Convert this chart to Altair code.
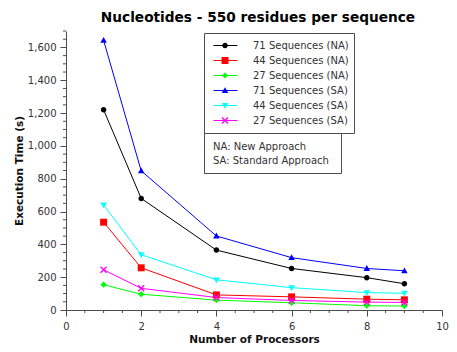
import altair as alt
import pandas as pd

# ---- data ----
processors = [1, 2, 4, 6, 8, 9]
series_names = ["71 Sequences (NA)", "44 Sequences (NA)", "27 Sequences (NA)",
                "71 Sequences (SA)", "44 Sequences (SA)", "27 Sequences (SA)"]
series_keys = ["k1", "k2", "k3", "k4", "k5", "k6"]
colors = ["#000000", "#ff0000", "#00ff00", "#0000ff", "#00ffff", "#ff00ff"]
na71 = [1220, 680, 365, 253, 197, 160]
na44 = [535, 257, 92, 80, 66, 62]
na27 = [154, 96, 60, 44, 26, 24]
sa71 = [1643, 848, 451, 319, 253, 239]
sa44 = [640, 337, 184, 136, 106, 102]
sa27 = [245, 132, 76, 58, 48, 46]
notes = ["NA: New Approach", "SA: Standard Approach"]
x_major = [0, 2, 4, 6, 8, 10]
x_minor = [i * 0.5 for i in range(21) if i % 4 != 0]
y_major = list(range(0, 1601, 200))
y_minor = [v for v in range(0, 1701, 50) if v % 200 != 0]

# marker shapes (unit path, scaled by symbol size 576 -> 12px per unit)
shapes = [
    "M0.23,0A0.23,0.23,0,1,1,-0.23,0A0.23,0.23,0,1,1,0.23,0Z",
    "M-0.29,-0.29L0.29,-0.29L0.29,0.29L-0.29,0.29Z",
    "M0,-0.26L0.26,0L0,0.26L-0.26,0Z",
    "M0,-0.28L0.27,0.2L-0.27,0.2Z",
    "M-0.27,-0.2L0.27,-0.2L0,0.28Z",
    "M-0.29,-0.21L-0.21,-0.29L0.29,0.21L0.21,0.29Z"
    "M0.21,-0.29L0.29,-0.21L-0.21,0.29L-0.29,0.21Z",
]

all_series = [na71, na44, na27, sa71, sa44, sa27]
rows = []
for name, key, vals in zip(series_names, series_keys, all_series):
    for p, v in zip(processors, vals):
        rows.append({"processors": p, "time": v, "series": name, "key": key})
df = pd.DataFrame(rows)
notes_df = pd.DataFrame({"note": ["\n".join(notes)]})
xminor_df = pd.DataFrame({"processors": x_minor})
yminor_df = pd.DataFrame({"time": y_minor})

FONT = "DejaVu Sans"
TXT = "#333333"
LINE = "#4d4d4d"
W, H = 376, 279

xscale = alt.Scale(domain=[0, 10], nice=False)
yscale = alt.Scale(domain=[0, 1700], nice=False)

xaxis = alt.Axis(
    values=x_major, tickCount=50, format="d", tickSize=6,
    grid=False, labelFont=FONT, labelFontSize=10, labelColor=TXT,
    tickColor=LINE, domainColor=LINE, labelPadding=5, labelFlush=False,
    labelOverlap=False,
    title="Number of Processors", titleFont=FONT,
    titleFontSize=10.5, titleFontWeight="bold", titleColor="#111111", titlePadding=3,
)
yaxis = alt.Axis(
    values=y_major, tickCount=50, format=",d", tickSize=6,
    grid=False, labelFont=FONT, labelFontSize=10, labelColor=TXT,
    tickColor=LINE, domainColor=LINE, labelPadding=4, labelFlush=False,
    labelOverlap=False,
    title="Execution Time (s)", titleFont=FONT,
    titleFontSize=10.5, titleFontWeight="bold", titleColor="#111111", titlePadding=3,
)

common_legend = dict(
    orient="none", legendX=138, legendY=2, direction="vertical", title=None,
    padding=5, symbolSize=576, symbolOffset=4, labelOffset=15, clipHeight=15,
    rowPadding=0, labelFont=FONT, labelFontSize=10, labelColor=TXT, labelLimit=300,
)

lines = alt.Chart(df).mark_line(strokeWidth=1).encode(
    x=alt.X("processors:Q", scale=xscale, axis=xaxis),
    y=alt.Y("time:Q", scale=yscale, axis=yaxis),
    stroke=alt.Stroke(
        "series:N",
        scale=alt.Scale(domain=series_names, range=colors),
        legend=alt.Legend(symbolType="stroke", symbolStrokeWidth=1,
                          strokeColor=LINE, **common_legend),
    ),
)

legend2 = alt.Legend(labelExpr="''", symbolStrokeWidth=0, **common_legend)
points = alt.Chart(df).mark_point(filled=True, size=576, opacity=1, strokeWidth=0).encode(
    x="processors:Q",
    y="time:Q",
    fill=alt.Fill("key:N", scale=alt.Scale(domain=series_keys, range=colors), legend=legend2),
    shape=alt.Shape("key:N", scale=alt.Scale(domain=series_keys, range=shapes), legend=legend2),
)

# minor ticks along both axes
x_minor_ticks = alt.Chart(xminor_df).mark_rule(color=LINE, strokeWidth=1).encode(
    x="processors:Q", y=alt.value(H), y2=alt.value(H + 3)
)
y_minor_ticks = alt.Chart(yminor_df).mark_rule(color=LINE, strokeWidth=1).encode(
    y="time:Q", x=alt.value(0), x2=alt.value(-3)
)

note_box = alt.Chart(notes_df).mark_rect(fill="white", stroke=LINE, strokeWidth=1).encode(
    x=alt.value(138.5), x2=alt.value(275.5), y=alt.value(102.5), y2=alt.value(142.5)
)
note_text = alt.Chart(notes_df).mark_text(
    align="left", baseline="alphabetic", font=FONT, fontSize=10, color=TXT,
    lineBreak="\n", lineHeight=14.7,
).encode(x=alt.value(147), y=alt.value(118.5), text="note:N")

chart = alt.layer(lines, points, x_minor_ticks, y_minor_ticks, note_box, note_text).properties(
    width=W,
    height=H,
    title=alt.TitleParams(
        "Nucleotides - 550 residues per sequence", font=FONT, fontSize=13.7,
        fontWeight="bold", color="#000000", anchor="middle", frame="group", offset=6,
        dx=4,
    ),
    padding={"left": 58, "top": 23, "right": 7, "bottom": 34},
    autosize=alt.AutoSizeParams(type="none"),
    background="white",
).configure_view(stroke="transparent")

chart.save("out.html", embed_options={"renderer": "svg", "actions": False})
